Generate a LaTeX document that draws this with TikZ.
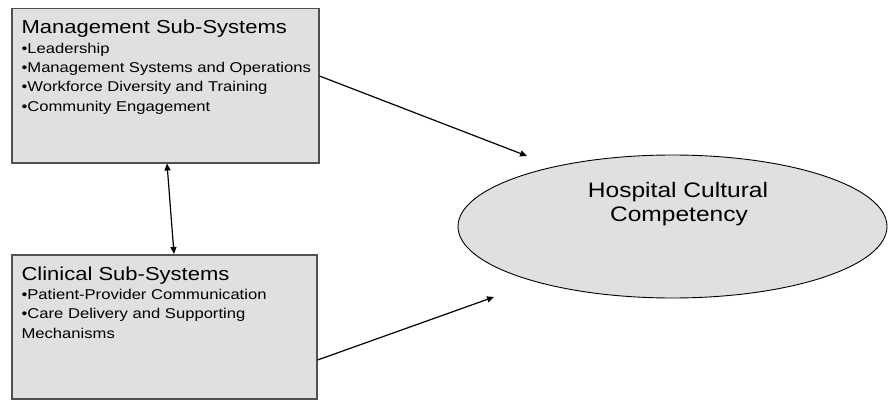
\documentclass[tikz,border=0pt]{standalone}
\usepackage{fontspec}
\setmainfont[FakeStretch=1.17]{Liberation Sans}
\usetikzlibrary{shapes.geometric,arrows.meta}
\definecolor{boxgray}{RGB}{224,224,224}
\definecolor{edgegray}{RGB}{80,80,80}

\begin{document}
\begin{tikzpicture}[x=1pt, y=-1pt, >={Triangle[length=7pt,width=6pt]}, line width=1.2pt,
    subsys/.style={rectangle, draw=edgegray, fill=boxgray, line width=1.5pt, anchor=north west, inner sep=0pt},
    heading/.style={anchor=base west, inner sep=0pt, font=\fontsize{18.8}{22}\selectfont},
    item/.style={anchor=base west, inner sep=0pt, font=\fontsize{14.2}{17}\selectfont},
    outcome/.style={ellipse, draw=black, fill=boxgray, line width=0.9pt, inner sep=0pt},
    bigtext/.style={anchor=base, inner sep=0pt, font=\fontsize{21}{25}\selectfont}]
	
	\useasboundingbox (0,0) rectangle (888,401);
	
	% 1. sub-system boxes
	\node[subsys, minimum width=307pt, minimum height=154pt] (mgmt) at (11,8) {};
	\node[subsys, minimum width=305pt, minimum height=144pt] (clin) at (11,254) {};
	
	% box texts
	\node[heading] (mgmt title) at (21,34) {Management Sub-Systems};
	\foreach \txt [count=\i] in {•Leadership, •Management Systems and Operations, •Workforce Diversity and Training, •Community Engagement}
		\node[item] (mgmt item\i) at (21,{34+19.3*\i}) {\txt};
	
	\node[heading] (clin title) at (21,280.3) {Clinical Sub-Systems};
	\foreach \txt [count=\i] in {•Patient-Provider Communication, •Care Delivery and Supporting, Mechanisms}
		\node[item] (clin item\i) at (21,{280.3+19.3*\i}) {\txt};
	
	% 2. outcome ellipse
	\node[outcome, minimum width=429pt, minimum height=143pt] (hcc) at (672.5,226.5) {};
	\node[bigtext] (hcc line1) at (678,197) {Hospital Cultural};
	\node[bigtext] (hcc line2) at (679,221) {Competency};
	
	% 3. arrows
	\coordinate (hcc in top) at (527,156);
	\coordinate (hcc in bottom) at (494,297);
	\draw[->] (mgmt.east |- 0,76) -- (hcc in top);
	\draw[->] (clin.east |- 0,360) -- (hcc in bottom);
	\draw[<->] (mgmt.south -| 167,0) -- (clin.north -| 174,0);
\end{tikzpicture}
\end{document}
